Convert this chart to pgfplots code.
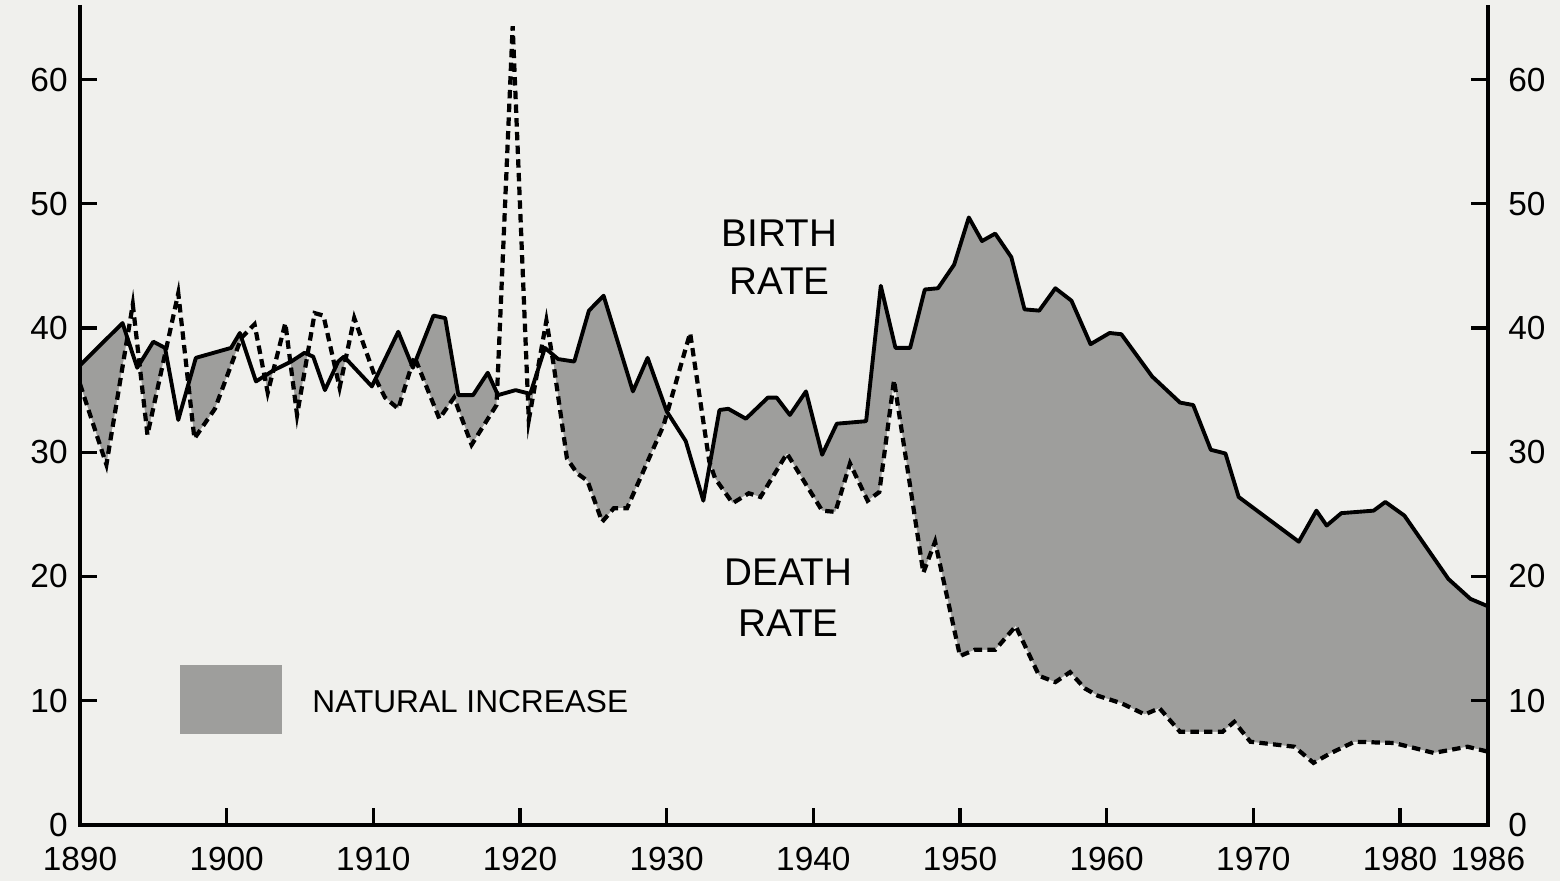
\documentclass[border=0pt]{standalone}
\usepackage{fontspec}
\setmainfont{Liberation Sans}
\usepackage{pgfplots}
\pgfplotsset{compat=1.18}
\usepackage{pgfplotstable}
\definecolor{bgcol}{RGB}{240,240,237}
\definecolor{incgray}{RGB}{158,158,156}

\pgfplotstableread{
year rate
1890 37.0
1892.9 40.4
1893.9 36.8
1895.0 38.9
1895.8 38.4
1896.7 32.6
1897.9 37.6
1900.3 38.4
1900.9 39.6
1902.0 35.7
1903.2 36.6
1904.4 37.3
1905.3 38.0
1905.9 37.7
1906.7 35.0
1907.6 37.3
1908.0 37.7
1909.9 35.3
1911.7 39.7
1912.7 36.8
1914.1 41.0
1914.9 40.8
1915.8 34.6
1916.8 34.6
1917.8 36.4
1918.5 34.6
1919.7 35.0
1920.7 34.7
1921.7 38.4
1922.6 37.5
1923.7 37.3
1924.7 41.4
1925.7 42.6
1927.7 34.9
1928.7 37.6
1930.0 33.3
1931.3 30.9
1932.5 26.1
1933.6 33.4
1934.2 33.5
1935.4 32.7
1936.9 34.4
1937.5 34.4
1938.4 33.0
1939.5 34.9
1940.6 29.8
1941.6 32.3
1943.6 32.5
1944.6 43.4
1945.6 38.4
1946.6 38.4
1947.6 43.1
1948.5 43.2
1949.6 45.1
1950.6 48.9
1951.5 47.0
1952.4 47.6
1953.5 45.7
1954.4 41.5
1955.4 41.4
1956.5 43.2
1957.6 42.2
1958.9 38.7
1960.2 39.6
1961.0 39.5
1963.1 36.1
1965.0 34.0
1965.9 33.8
1967.1 30.2
1968.1 29.9
1969.0 26.4
1973.1 22.8
1974.3 25.3
1975.0 24.1
1976.0 25.1
1978.2 25.3
1979.0 26.0
1980.3 24.9
1983.3 19.8
1984.8 18.2
1986 17.6
}\birth

\pgfplotstableread{
year rate
1890 35.5
1891.8 29.0
1893.6 41.9
1894.6 31.4
1896.7 42.8
1897.8 31.1
1899.2 33.5
1900.3 37.0
1901.0 39.2
1901.9 40.3
1902.8 34.8
1904.0 40.4
1904.8 33.0
1906.0 41.2
1906.6 41.0
1907.7 35.2
1908.7 40.8
1910.2 35.8
1910.8 34.4
1911.7 33.5
1912.8 37.7
1914.5 32.7
1915.5 34.4
1916.7 30.6
1918.4 33.8
1919.5 64.3
1920.6 32.6
1921.8 40.6
1922.3 37.0
1923.2 29.5
1923.9 28.3
1924.6 27.7
1925.6 24.4
1926.4 25.5
1927.3 25.5
1929.8 32.2
1931.6 39.6
1932.9 29.3
1933.3 27.9
1934.5 25.9
1935.6 26.7
1936.4 26.4
1938.2 29.9
1940.6 25.3
1941.5 25.2
1942.5 29.1
1943.7 26.1
1944.5 26.8
1945.5 35.8
1947.5 20.3
1948.3 22.8
1950.0 13.6
1951.0 14.1
1952.4 14.1
1953.8 16.0
1955.4 12.0
1956.5 11.5
1957.5 12.3
1958.5 11.0
1959.4 10.4
1961.0 9.8
1962.6 8.9
1963.6 9.4
1965.0 7.5
1967.9 7.5
1968.7 8.3
1969.8 6.7
1972.8 6.3
1974.1 5.0
1975.3 5.8
1976.9 6.7
1979.6 6.6
1982.3 5.8
1984.6 6.3
1986 5.9
}\death

\begin{document}
\begin{tikzpicture}
\fill[bgcol] (-0.8,-0.56) rectangle (14.8,8.25);
\begin{axis}[
  at={(0,0)}, anchor=south west,
  width=14.08cm, height=8.2cm, scale only axis,
  xmin=1890, xmax=1986, ymin=0, ymax=66,
  axis line style={draw=none},
  axis on top, clip=false,
  xtick={1890,1900,1910,1920,1930,1940,1950,1960,1970,1980,1986},
  ytick={0,10,20,30,40,50,60},
  tick align=inside,
  xtick pos=lower, ytick pos=both,
  yticklabel pos=left,
  major tick length=0.17cm,
  tick style={black, line width=0.9pt},
  ticklabel style={font=\fontsize{9.5}{10}\selectfont},
  /pgf/number format/assume math mode=true,
  /pgf/number format/1000 sep={},
  xticklabel style={yshift=-0.1cm},
]
\addplot[fill=incgray, draw=none] table[x=year,y=rate] {\birth} \closedcycle;
\addplot[fill=bgcol, draw=none] table[x=year,y=rate] {\death} \closedcycle;
\addplot[black, line width=1.1pt, line join=round] table[x=year,y=rate] {\birth};
\addplot[black, line width=1.2pt, dash pattern=on 2.4pt off 1.5pt] table[x=year,y=rate] {\death};
\draw[black, line width=1pt] (rel axis cs:0,1) -- (rel axis cs:0,0) -- (rel axis cs:1,0) -- (rel axis cs:1,1);
\node[align=center, font=\fontsize{11}{13.6}\selectfont] at (axis cs:1937.7,45.7) {BIRTH\\RATE};
\node[align=center, font=\fontsize{11}{14.6}\selectfont] at (axis cs:1938.3,18.3) {DEATH\\RATE};
\path[fill=incgray] (axis cs:1896.8,7.3) rectangle (axis cs:1903.8,12.9);
\node[anchor=west, inner sep=0pt, font=\fontsize{9}{10}\selectfont] at (axis cs:1905.8,9.9) {NATURAL INCREASE};
\end{axis}
\begin{axis}[
  at={(0,0)}, anchor=south west,
  width=14.08cm, height=8.2cm, scale only axis,
  xmin=1890, xmax=1986, ymin=0, ymax=66,
  axis line style={draw=none},
  xtick=\empty,
  ytick={0,10,20,30,40,50,60},
  ytick pos=right, yticklabel pos=right,
  major tick length=0pt,
  ticklabel style={font=\fontsize{9.5}{10}\selectfont},
  yticklabel style={xshift=0.08cm},
  /pgf/number format/assume math mode=true,
]
\end{axis}
\end{tikzpicture}
\end{document}
